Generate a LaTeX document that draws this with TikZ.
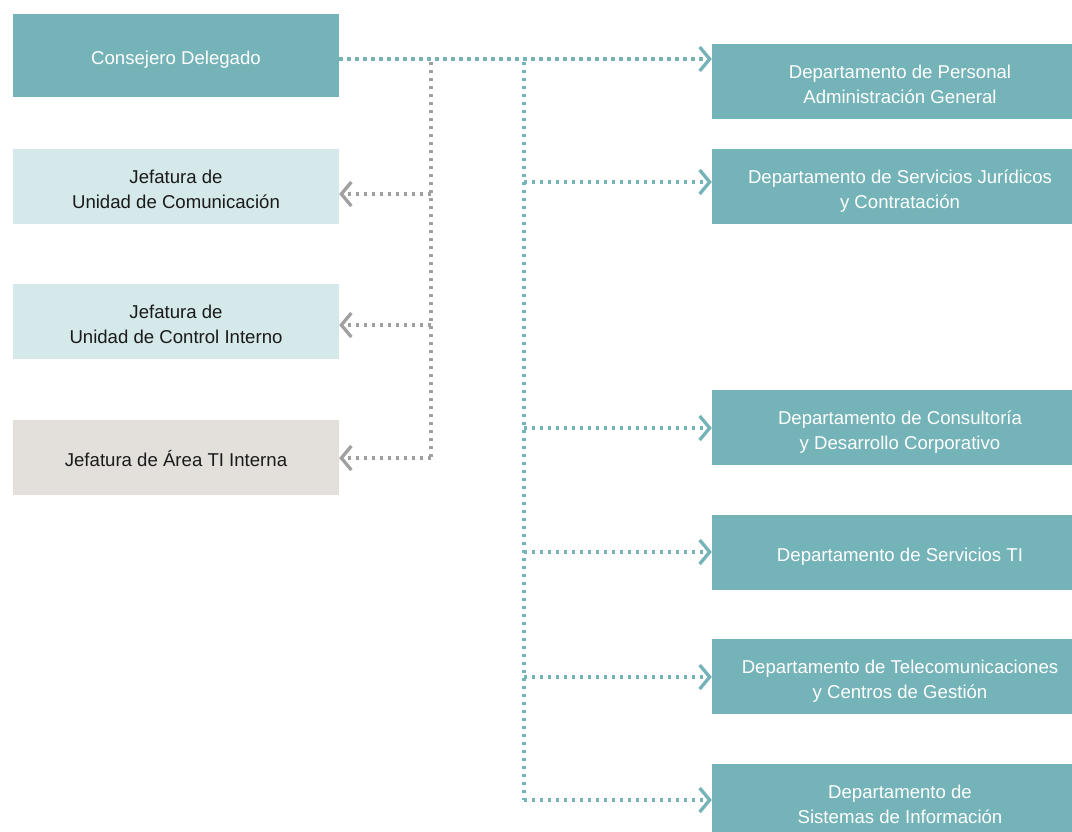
\documentclass[tikz,border=0pt]{standalone}
\usepackage{fontspec}
\setmainfont{Liberation Sans}
\usetikzlibrary{arrows.meta}
\definecolor{tealbox}{HTML}{74B3B7}
\definecolor{lightbox}{HTML}{D5E8EA}
\definecolor{beigebox}{HTML}{E3E0DB}
\definecolor{grayline}{HTML}{A0A0A0}
\definecolor{darktext}{HTML}{1A1A1A}
\newcommand{\boxlbl}[1]{\raisebox{-4pt}[\height][\depth]{\begin{tabular}{@{}c@{}}#1\end{tabular}}}
\begin{document}
\begin{tikzpicture}[x=1pt,y=-1pt,
  boxbase/.style={rectangle,inner sep=0pt,align=center,
    font=\fontsize{18.6}{25}\selectfont},
  leftbox/.style={boxbase,minimum width=326pt},
  rightbox/.style={boxbase,fill=tealbox,text=white,minimum width=376pt,minimum height=75pt},
  tealplain/.style={draw=tealbox,line width=3.3pt,dash pattern=on 3.3pt off 4.7pt},
  tealdot/.style={tealplain,
    -{Straight Barb[length=10pt,width=24pt,line width=3.3pt]}},
  grayplain/.style={draw=grayline,line width=3.3pt,dash pattern=on 3.3pt off 4.7pt},
  graydot/.style={grayplain,
    -{Straight Barb[length=10pt,width=24pt,line width=3.3pt]}}
]
\useasboundingbox (0,0) rectangle (1072,831);
\fill[white] (0,0) rectangle (1072,831);

% left boxes
\node[leftbox,fill=tealbox,text=white,minimum height=83pt] (cd) at (176,55.5) {\boxlbl{Consejero Delegado}};
\node[leftbox,fill=lightbox,text=darktext,minimum height=75pt] (jc) at (176,186.5) {\boxlbl{Jefatura de\\Unidad de Comunicación}};
\node[leftbox,fill=lightbox,text=darktext,minimum height=75pt] (ji) at (176,321.5) {\boxlbl{Jefatura de\\Unidad de Control Interno}};
\node[leftbox,fill=beigebox,text=darktext,minimum height=75pt] (jt) at (176,457.5) {\boxlbl{Jefatura de Área TI Interna}};

% right boxes
\node[rightbox] (d1) at (900,81.5) {\boxlbl{Departamento de Personal\\Administración General}};
\node[rightbox] (d2) at (900,186.5) {\boxlbl{Departamento de Servicios Jurídicos\\y Contratación}};
\node[rightbox] (d3) at (900,427.5) {\boxlbl{Departamento de Consultoría\\y Desarrollo Corporativo}};
\node[rightbox] (d4) at (900,552) {\boxlbl{Departamento de Servicios TI}};
\node[rightbox] (d5) at (900,676.5) {\boxlbl{Departamento de Telecomunicaciones\\y Centros de Gestión}};
\node[rightbox] (d6) at (900,801.5) {\boxlbl{Departamento de\\Sistemas de Información}};

% junction coordinates
\coordinate (gtop) at (431,62);
\coordinate (gbot) at (431,458);
\coordinate (ttop) at (524,62);
\coordinate (tbot) at (524,800);

% main line
\draw[tealdot] (cd.east |- 0,59) -- (d1.west |- 0,59);

% gray branch
\draw[grayplain] (gtop) -- (gbot);
\draw[graydot] (gtop |- 0,194) -- (jc.east |- 0,194);
\draw[graydot] (gtop |- 0,325) -- (ji.east |- 0,325);
\draw[graydot] (gbot) -- (jt.east |- gbot);

% teal branch
\draw[tealplain] (ttop) -- (tbot);
\draw[tealdot] (ttop |- 0,182) -- (d2.west |- 0,182);
\draw[tealdot] (ttop |- 0,428) -- (d3.west |- 0,428);
\draw[tealdot] (ttop |- 0,552) -- (d4.west |- 0,552);
\draw[tealdot] (ttop |- 0,677) -- (d5.west |- 0,677);
\draw[tealdot] (tbot) -- (d6.west |- tbot);
\end{tikzpicture}
\end{document}
